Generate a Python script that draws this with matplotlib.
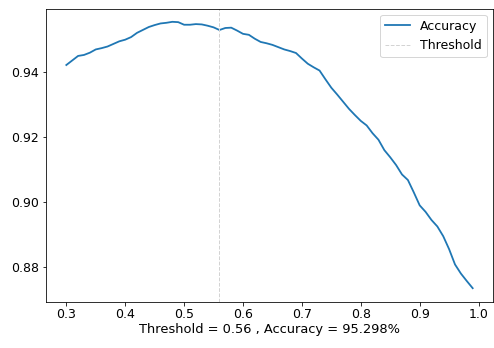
import numpy as np
import matplotlib
matplotlib.use("Agg")
import matplotlib.pyplot as plt

# Accuracy por threshold
thresholds = np.round(np.arange(0.30, 0.995, 0.01), 2)
accuracy = [
    0.9422, 0.9436, 0.9450, 0.9453, 0.9460, 0.9470, 0.9474, 0.9479, 0.9487, 0.9495,
    0.9500, 0.9508, 0.9521, 0.9530, 0.9539, 0.9545, 0.9550, 0.9552, 0.9555, 0.9554,
    0.9546, 0.9546, 0.9548, 0.9547, 0.9543, 0.9538, 0.95298, 0.9536, 0.9537, 0.9528,
    0.9518, 0.9515, 0.9503, 0.9493, 0.9489, 0.9484, 0.9477, 0.9470, 0.9465, 0.9459,
    0.9442, 0.9426, 0.9415, 0.9405, 0.9378, 0.9352, 0.9331, 0.9309, 0.9287, 0.9268,
    0.9250, 0.9236, 0.9212, 0.9192, 0.9160, 0.9138, 0.9114, 0.9085, 0.9068, 0.9030,
    0.8990, 0.8970, 0.8945, 0.8925, 0.8895, 0.8855, 0.8808, 0.8780, 0.8757, 0.8735,
]
best_threshold = 0.56
best_accuracy = 95.298

fig = plt.figure(figsize=(494 / 72, 348 / 72), dpi=72)
ax = fig.add_axes([46 / 494, 1 - 301.5 / 348, 447 / 494, 293 / 348])

ax.plot(thresholds, accuracy, color="#1f77b4", linewidth=1.8, label="Accuracy")
ax.axvline(x=best_threshold, color="lightgray", linestyle="--", linewidth=1.0,
           label="Threshold")

ax.set_xticks([0.3, 0.4, 0.5, 0.6, 0.7, 0.8, 0.9, 1.0])
ax.set_xticklabels(["0.3", "0.4", "0.5", "0.6", "0.7", "0.8", "0.9", "1.0"])
ax.set_xlabel(f"Threshold = {best_threshold} , Accuracy = {best_accuracy}%",
              fontsize=13, labelpad=2)
ax.tick_params(labelsize=12.5)
ax.legend(loc="upper right", fontsize=12.5)

fig.savefig("out.png", dpi=72)
